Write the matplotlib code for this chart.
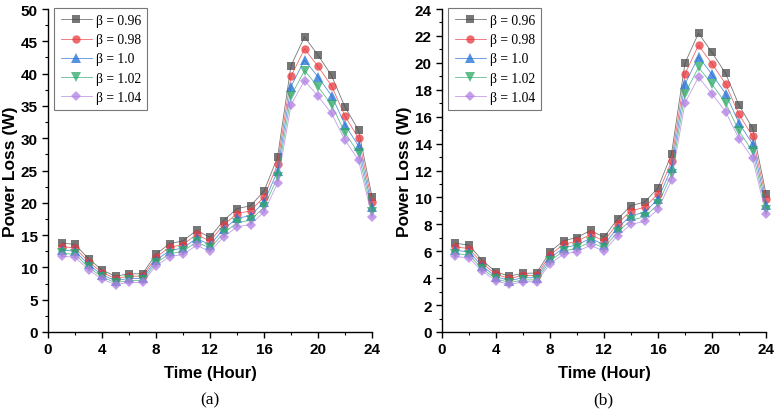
import matplotlib
matplotlib.use("Agg")
import matplotlib.pyplot as plt
from matplotlib.ticker import MultipleLocator

hours = list(range(1, 25))
labels = ["β = 0.96", "β = 0.98", "β = 1.0", "β = 1.02", "β = 1.04"]

loss_a_096 = [13.78, 13.56, 11.34, 9.60, 8.63, 9.01, 9.01, 12.04, 13.67, 14.11, 15.73, 14.65,
              17.25, 19.10, 19.53, 21.81, 27.02, 41.23, 45.68, 42.86, 39.71, 34.83, 31.25, 20.94]
loss_a_098 = [13.22, 13.02, 10.88, 9.21, 8.28, 8.64, 8.64, 11.56, 13.12, 13.54, 15.10, 14.06,
              16.56, 18.33, 18.74, 20.93, 25.93, 39.57, 43.83, 41.13, 38.11, 33.42, 29.99, 20.10]
loss_a_100 = [12.70, 12.50, 10.45, 8.85, 7.95, 8.30, 8.30, 11.10, 12.60, 13.00, 14.50, 13.50,
              15.90, 17.60, 18.00, 20.10, 24.90, 38.00, 42.10, 39.50, 36.60, 32.10, 28.80, 19.30]
loss_a_102 = [12.21, 12.02, 10.04, 8.51, 7.64, 7.98, 7.98, 10.67, 12.11, 12.50, 13.94, 12.98,
              15.28, 16.92, 17.30, 19.32, 23.93, 36.53, 40.47, 37.97, 35.18, 30.85, 27.68, 18.55]
loss_a_104 = [11.74, 11.56, 9.66, 8.18, 7.35, 7.67, 7.67, 10.26, 11.65, 12.02, 13.41, 12.48,
              14.70, 16.27, 16.64, 18.58, 23.02, 35.13, 38.93, 36.52, 33.84, 29.68, 26.63, 17.84]

loss_b_096 = [6.59, 6.46, 5.30, 4.46, 4.15, 4.37, 4.37, 5.96, 6.78, 7.02, 7.55, 7.04,
              8.39, 9.39, 9.65, 10.70, 13.23, 19.99, 22.20, 20.77, 19.23, 16.85, 15.16, 10.28]
loss_b_098 = [6.32, 6.20, 5.08, 4.28, 3.98, 4.20, 4.20, 5.72, 6.51, 6.74, 7.25, 6.76,
              8.05, 9.01, 9.26, 10.27, 12.69, 19.18, 21.30, 19.93, 18.45, 16.17, 14.55, 9.86]
loss_b_100 = [6.07, 5.95, 4.88, 4.11, 3.82, 4.03, 4.03, 5.49, 6.25, 6.47, 6.96, 6.49,
              7.73, 8.65, 8.89, 9.86, 12.19, 18.42, 20.46, 19.14, 17.72, 15.53, 13.97, 9.47]
loss_b_102 = [5.83, 5.72, 4.69, 3.95, 3.67, 3.87, 3.87, 5.28, 6.01, 6.22, 6.69, 6.24,
              7.43, 8.31, 8.55, 9.48, 11.72, 17.71, 19.67, 18.40, 17.03, 14.93, 13.43, 9.10]
loss_b_104 = [5.61, 5.50, 4.51, 3.80, 3.53, 3.73, 3.73, 5.08, 5.78, 5.98, 6.44, 6.00,
              7.15, 8.00, 8.22, 9.12, 11.27, 17.03, 18.92, 17.70, 16.38, 14.36, 12.92, 8.76]

series_a = [loss_a_096, loss_a_098, loss_a_100, loss_a_102, loss_a_104]
series_b = [loss_b_096, loss_b_098, loss_b_100, loss_b_102, loss_b_104]

colors = ["#4a4a4a", "#e8383d", "#1f6fd4", "#2fa868", "#b07ee3"]
markers = ["s", "o", "^", "v", "D"]
msizes = [5.4, 6.0, 6.5, 6.5, 5.0]

fig = plt.figure(figsize=(7.78, 4.10), dpi=100)
ax_a = fig.add_axes([48 / 778, 77 / 410, 324 / 778, 323 / 410])
ax_b = fig.add_axes([442 / 778, 77 / 410, 324 / 778, 323 / 410])


def draw(ax, series, ymax, ymajor, yminor, caption, cx):
    for vals, c, m, ms, lab in zip(series, colors, markers, msizes, labels):
        ax.plot(hours, vals, color=c, lw=0.6, alpha=0.75, marker=m, ms=ms,
                markeredgewidth=0, label=lab, clip_on=False, zorder=3)
    ax.set_xlim(0, 24)
    ax.set_ylim(0, ymax)
    ax.xaxis.set_major_locator(MultipleLocator(4))
    ax.xaxis.set_minor_locator(MultipleLocator(2))
    ax.yaxis.set_major_locator(MultipleLocator(ymajor))
    ax.yaxis.set_minor_locator(MultipleLocator(yminor))
    for s in ["top", "right"]:
        ax.spines[s].set_visible(False)
    for s in ["left", "bottom"]:
        ax.spines[s].set_linewidth(1.0)
    ax.tick_params(which="major", direction="out", length=4, width=1,
                   labelsize=11)
    ax.tick_params(which="minor", direction="out", length=2.5, width=0.8)
    for t in ax.get_xticklabels() + ax.get_yticklabels():
        t.set_fontfamily("Liberation Sans")
        t.set_fontweight("bold")
    ax.set_xlabel("Time (Hour)", fontsize=12, fontweight="bold",
                  fontfamily="Liberation Sans", labelpad=6)
    ax.set_ylabel("Power Loss (W)", fontsize=12.5, fontweight="bold",
                  fontfamily="Liberation Sans")
    ax.yaxis.set_label_coords(-0.094, 0.5)
    leg = ax.legend(loc="upper left", bbox_to_anchor=(0.02, 1.003),
                    prop={"family": "Liberation Serif", "size": 9.8},
                    frameon=True, fancybox=False, edgecolor="#555555",
                    handlelength=2.3, handletextpad=0.3, borderpad=0.45,
                    labelspacing=0.45, borderaxespad=0)
    leg.get_frame().set_linewidth(0.8)
    fig.text(cx, 10 / 410, caption, ha="center", va="center",
             fontsize=12.5, fontfamily="Liberation Serif")


draw(ax_a, series_a, 50, 5, 2.5, "(a)", 210 / 778)
draw(ax_b, series_b, 24, 2, 1, "(b)", 603 / 778)

fig.savefig("out.png", dpi=100)
